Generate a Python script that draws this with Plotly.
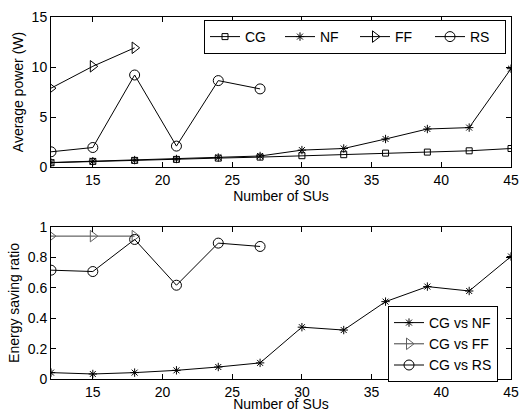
import plotly.graph_objects as go

# ---- data ----
sus = [12, 15, 18, 21, 24, 27, 30, 33, 36, 39, 42, 45]
cg_power = [0.43, 0.56, 0.66, 0.76, 0.89, 0.99, 1.13, 1.23, 1.39, 1.49, 1.62, 1.85]
nf_power = [0.45, 0.58, 0.69, 0.80, 0.95, 1.10, 1.69, 1.85, 2.80, 3.80, 3.94, 9.83]
ff_sus = [12, 15, 18]
ff_power = [7.88, 10.07, 11.92]
rs_sus = [12, 15, 18, 21, 24, 27]
rs_power = [1.52, 1.95, 9.20, 2.09, 8.64, 7.81]

ratio_nf = [0.042, 0.033, 0.042, 0.057, 0.079, 0.106, 0.341, 0.322, 0.509, 0.608, 0.579, 0.806]
ratio_ff = [0.94, 0.94, 0.94]
ratio_rs = [0.716, 0.707, 0.918, 0.617, 0.894, 0.872]

x_ticks = [15, 20, 25, 30, 35, 40, 45]
y1_ticks = [0, 5, 10, 15]
y2_ticks = [0, 0.2, 0.4, 0.6, 0.8, 1]
y2_labels = ["0", "0.2", "0.4", "0.6", "0.8", "1"]

FONT = "Liberation Sans, Arial, sans-serif"
W, H = 521, 412

fig = go.Figure()

def add(x, y, name, symbol, size, xa, ya, legend, color="black", mcolor=None):
    mcolor = mcolor or color
    fig.add_trace(go.Scatter(
        x=x, y=y, name=name, mode="lines+markers",
        line=dict(color=color, width=1),
        marker=dict(symbol=symbol, size=size, color=mcolor,
                    line=dict(color=mcolor, width=1)),
        xaxis=xa, yaxis=ya, legend=legend))

add(sus, cg_power, "CG", "square-open", 6, "x", "y", "legend")
add(sus, nf_power, "NF", "asterisk-open", 7, "x", "y", "legend")
add(ff_sus, ff_power, "FF", "triangle-right-open", 10, "x", "y", "legend")
add(rs_sus, rs_power, "RS", "circle-open", 10, "x", "y", "legend")

add(sus, ratio_nf, "CG vs NF", "asterisk-open", 7, "x2", "y2", "legend2")
add(ff_sus, ratio_ff, "CG vs FF", "triangle-right-open", 10, "x2", "y2", "legend2",
    color="#404040", mcolor="#606060")
add(rs_sus, ratio_rs, "CG vs RS", "circle-open", 10, "x2", "y2", "legend2")

x0, x1 = 51 / W, 511 / W
axis_common = dict(showline=True, linecolor="black", linewidth=1, mirror="ticks",
                   ticks="inside", ticklen=5, tickcolor="black", showgrid=False,
                   zeroline=False, automargin=False,
                   tickfont=dict(family=FONT, size=14, color="black"))

fig.update_layout(
    width=W, height=H, margin=dict(l=0, r=0, t=0, b=0, autoexpand=False),
    paper_bgcolor="white", plot_bgcolor="white",
    font=dict(family=FONT, size=14, color="black"),
    xaxis=dict(domain=[x0, x1], range=[12, 45], tickvals=x_ticks, anchor="y",
               title=dict(text="Number of SUs", standoff=0, font=dict(size=14)), **axis_common),
    yaxis=dict(domain=[1 - 167 / H, 1 - 17 / H], range=[0, 15], tickvals=y1_ticks, anchor="x",
               title=dict(text="Average power (W)", standoff=4, font=dict(size=14)), **axis_common),
    xaxis2=dict(domain=[x0, x1], range=[12, 45], tickvals=x_ticks, anchor="y2",
                title=dict(text="Number of SUs", standoff=0, font=dict(size=14)), **axis_common),
    yaxis2=dict(domain=[1 - 379 / H, 1 - 227 / H], range=[0, 1], tickvals=y2_ticks,
                ticktext=y2_labels, anchor="x2",
                title=dict(text="Energy saving ratio", standoff=4, font=dict(size=14)), **axis_common),
    legend=dict(orientation="h", x=204 / W, y=1 - 20 / H, xanchor="left", yanchor="top",
                bgcolor="white", bordercolor="black", borderwidth=1,
                font=dict(family=FONT, size=14), itemwidth=30, tracegroupgap=0,
                entrywidth=30),
    legend2=dict(orientation="v", x=388 / W, y=1 - 306 / H, xanchor="left", yanchor="top",
                 bgcolor="white", bordercolor="black", borderwidth=1,
                 font=dict(family=FONT, size=14), itemwidth=30, tracegroupgap=0),
    showlegend=True,
)

fig.write_html("out.html", config={"displayModeBar": False},
               post_script="document.body.style.margin='0';document.body.style.padding='0';")
